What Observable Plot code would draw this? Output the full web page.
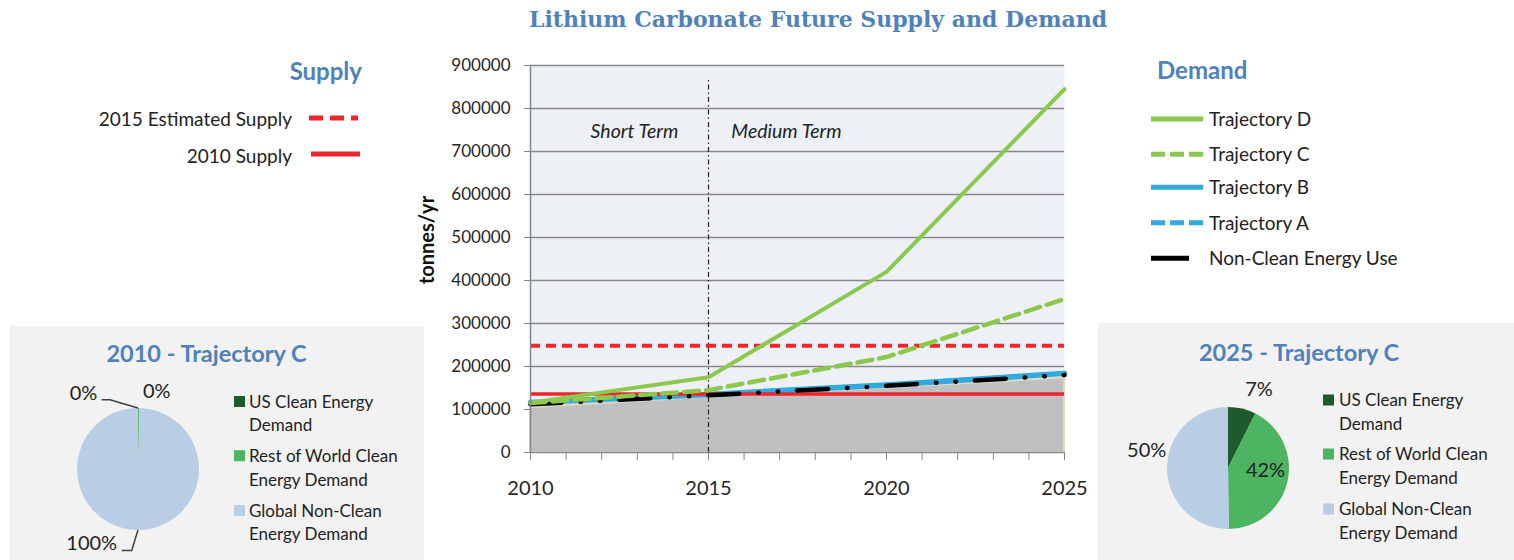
<!DOCTYPE html>
<html><head><meta charset="utf-8">
<script src="https://cdn.jsdelivr.net/npm/d3@7"></script>
<script src="https://cdn.jsdelivr.net/npm/@observablehq/plot@0.6"></script>
<style>
html,body{margin:0;padding:0;background:#fff;}
#page{position:relative;width:1514px;height:560px;overflow:hidden;font-family:Lato,"Open Sans",sans-serif;}
#page > svg{position:absolute;}
</style></head>
<body><div id="page"></div>
<script>
// ---------------- data ----------------
const years = [2010, 2015, 2020, 2025];
const trajectoryD = [116000, 175000, 420000, 845000];
const trajectoryC = [115000, 145000, 222000, 357000];
const trajectoryB = [116000, 135000, 157000, 184000];
const trajectoryA = [116000, 135000, 157000, 184000];
const nonCleanUse = [112000, 133000, 155000, 180000];
const nonCleanBase = [104000, 129000, 150000, 173000];
const supply2010 = [136000];
const supply2015Estimated = [248000];
const yTicks = [0, 100000, 200000, 300000, 400000, 500000, 600000, 700000, 800000, 900000];
const xTicks = [2010, 2011, 2012, 2013, 2014, 2015, 2016, 2017, 2018, 2019, 2020, 2021, 2022, 2023, 2024, 2025];
const xTickLabels = [2010, 2015, 2020, 2025];
const phaseLabels = ["Short Term", "Medium Term"];
const supplySeries = ["2015 Estimated Supply", "2010 Supply"];
const demandSeries = ["Trajectory D", "Trajectory C", "Trajectory B", "Trajectory A", "Non-Clean Energy Use"];
const pieCategories = ["US Clean Energy Demand", "Rest of World Clean Energy Demand", "Global Non-Clean Energy Demand"];
const pieCategoryLines = [["US Clean Energy", "Demand"], ["Rest of World Clean", "Energy Demand"], ["Global Non-Clean", "Energy Demand"]];
const pie2010 = [0.1, 0.3, 99.6];
const pie2025 = [7.4, 42.4, 50.2];

// ---------------- styles ----------------
const GREEN = "#8cc84e", BLUE = "#33a9de", RED = "#ef2529", HEAD = "#4f81bd", TXT = "#222";
const pieColors = ["#1e5b2c", "#4db562", "#b9cde5"];
const FONT = "Lato, 'Open Sans', sans-serif";

const page = document.getElementById("page");

// ---------------- overlay (titles, legends, panels) ----------------
const overlay = d3.create("svg").attr("width", 1514).attr("height", 560)
  .style("left", "0px").style("top", "0px").style("font-family", FONT);
page.appendChild(overlay.node());
function text(x, y, s, attrs = {}) {
  const t = overlay.append("text").attr("x", x).attr("y", y).text(s).attr("fill", TXT);
  for (const [k, v] of Object.entries(attrs)) t.attr(k, v);
  return t;
}
function line(x1, y1, x2, y2, attrs = {}) {
  const l = overlay.append("line").attr("x1", x1).attr("y1", y1).attr("x2", x2).attr("y2", y2);
  for (const [k, v] of Object.entries(attrs)) l.attr(k, v);
  return l;
}

// panels
overlay.append("rect").attr("x", 10).attr("y", 326).attr("width", 414).attr("height", 240).attr("fill", "#f2f2f2");
overlay.append("rect").attr("x", 1098).attr("y", 323).attr("width", 420).attr("height", 240).attr("fill", "#f2f2f2");

// title
text(818, 27, "Lithium Carbonate Future Supply and Demand", {"text-anchor": "middle", "font-family": "'DejaVu Serif', serif", "font-weight": "bold", "font-size": 22, fill: HEAD});

// supply legend
text(362, 80, "Supply", {"text-anchor": "end", "font-weight": "bold", "font-size": 24, fill: HEAD});
const supplyStyles = [{dash: "14,7"}, {dash: null}];
supplySeries.forEach((s, i) => {
  const y = [118, 154][i];
  text(292, [125.5, 163][i], s, {"text-anchor": "end", "font-size": 19});
  const l = line(i ? 311 : 309, y, i ? 360 : 358, y, {stroke: RED, "stroke-width": 5});
  if (supplyStyles[i].dash) l.attr("stroke-dasharray", supplyStyles[i].dash);
});

// demand legend
text(1157, 78.5, "Demand", {"font-weight": "bold", "font-size": 24, fill: HEAD});
const demandStyles = [
  {c: GREEN, dash: null, x2: 1203}, {c: GREEN, dash: "14,5", x2: 1203},
  {c: BLUE, dash: null, x2: 1203}, {c: BLUE, dash: "14,5", x2: 1203},
  {c: "#000", dash: null, x2: 1189}
];
const demandRows = [119, 154.3, 187.3, 222.7, 258.3];
demandSeries.forEach((s, i) => {
  const st = demandStyles[i], y = demandRows[i];
  const l = line(1151, y, st.x2, y, {stroke: st.c, "stroke-width": 5});
  if (st.dash) l.attr("stroke-dasharray", st.dash);
  text(1209, y + 7, s, {"font-size": 19});
});

// y axis title
text(0, 0, "tonnes/yr", {"text-anchor": "middle", "dominant-baseline": "central", "font-weight": "bold", "font-size": 20, fill: "#111",
  transform: "translate(425.5,240) rotate(-90)"});

// pie panel titles + legends
text(206.5, 362, "2010 - Trajectory C", {"text-anchor": "middle", "font-weight": "bold", "font-size": 23.5, fill: HEAD});
text(1299, 361, "2025 - Trajectory C", {"text-anchor": "middle", "font-weight": "bold", "font-size": 23.5, fill: HEAD});
function pieLegend(sqX, txX, baselines) {
  pieCategoryLines.forEach((lines, i) => {
    const b = baselines[i];
    overlay.append("rect").attr("x", sqX).attr("y", b - 11.5).attr("width", 11).attr("height", 11).attr("fill", pieColors[i]);
    lines.forEach((s, j) => text(txX, b + j * 23.8, s, {"font-size": 17}));
  });
}
pieLegend(234, 249, [407.5, 461.7, 516.5]);
pieLegend(1323, 1339, [406, 460, 515]);

// ---------------- main chart ----------------
const table = years.map((year, i) => ({
  year, D: trajectoryD[i], C: trajectoryC[i], B: trajectoryB[i], A: trajectoryA[i],
  nonClean: nonCleanUse[i], base: nonCleanBase[i]
}));

const main = Plot.plot({
  width: 690, height: 470,
  marginLeft: 120, marginRight: 36, marginTop: 25, marginBottom: 58,
  x: {domain: [2010, 2025], label: null},
  y: {domain: [0, 900000], label: null},
  style: {background: "transparent", fontFamily: FONT, color: TXT, overflow: "visible"},
  marks: [
    Plot.frame({fill: "#edf1f6", stroke: "none"}),
    Plot.gridY(yTicks.filter(d => d > 0), {stroke: "#888", strokeOpacity: 1, strokeWidth: 1.7}),
    Plot.areaY(table, {x: "year", y: "base", fill: "#c0c0c2", stroke: "#dcd9bf", strokeWidth: 2}),
    Plot.ruleX([2015], {y1: 0, y2: 870000, stroke: "#222", strokeWidth: 1.2, strokeDasharray: "5,3,1.5,3"}),
    Plot.line(table, {x: "year", y: "B", stroke: BLUE, strokeWidth: 5.5}),
    Plot.line(table, {x: "year", y: "A", stroke: BLUE, strokeWidth: 4.5, strokeDasharray: "10,6"}),
    Plot.ruleY(supply2010, {stroke: RED, strokeWidth: 3.5}),
    Plot.line(table, {x: "year", y: "nonClean", stroke: "#000", strokeWidth: 4.5, strokeDasharray: "31,19,0.5,19,0.5,19", strokeLinecap: "round"}),
    Plot.ruleY(supply2015Estimated, {stroke: RED, strokeWidth: 4, strokeDasharray: "10,6"}),
    Plot.line(table, {x: "year", y: "C", stroke: GREEN, strokeWidth: 4.5, strokeDasharray: "15,7"}),
    Plot.line(table, {x: "year", y: "D", stroke: GREEN, strokeWidth: 4}),
    Plot.ruleX([2010], {stroke: "#868686", strokeWidth: 1.5}),
    Plot.ruleY([0], {stroke: "#868686", strokeWidth: 1.5}),
    Plot.axisY({ticks: yTicks, tickSize: 6, tickPadding: 14, tickFormat: d3.format("d"), fontSize: 17, stroke: "#868686", fill: "#262626", label: null}),
    Plot.axisX({ticks: xTicks, tickSize: 8, tickPadding: 20, tickFormat: d => xTickLabels.includes(d) ? String(d) : "", fontSize: 20, stroke: "#868686", fill: "#262626", label: null}),
    Plot.text(phaseLabels, {x: [2012.92, 2017.19], y: [745800, 745800], text: d => d, fontStyle: "italic", fontSize: 19.5, fill: TXT})
  ]
});
main.style.left = "410px"; main.style.top = "40px";
page.appendChild(main);

// ---------------- pies ----------------
class PieMark extends Plot.Mark {
  constructor(data, options = {}) {
    const {theta, fill} = options;
    super(data, {
      theta: {value: theta},
      fill: {value: fill, scale: "color"}
    }, options, {});
    this.radius = options.radius ?? 60;
    this.labelOffsets = options.labelOffsets ?? [];
    this.leaders = options.leaders ?? [];
  }
  render(index, scales, channels, dimensions) {
    const V = channels.theta, F = channels.fill;
    const cx = dimensions.width / 2, cy = dimensions.height / 2;
    const total = d3.sum(index, i => V[i]);
    const arcs = d3.pie().sort(null).value(i => V[i])(index);
    const arc = d3.arc().innerRadius(0).outerRadius(this.radius);
    const g = d3.create("svg:g").attr("transform", `translate(${cx},${cy})`);
    g.selectAll("path").data(arcs).join("path").attr("d", arc).attr("fill", d => F[d.data]);
    g.selectAll("polyline").data(this.leaders).join("polyline")
      .attr("points", d => d.map(p => p.join(",")).join(" "))
      .attr("fill", "none").attr("stroke", "#404040").attr("stroke-width", 1.5);
    const fmt = d3.format(".0%");
    g.selectAll("text").data(arcs).join("text")
      .attr("x", (d, k) => this.labelOffsets[k][0]).attr("y", (d, k) => this.labelOffsets[k][1])
      .attr("text-anchor", "middle").attr("font-size", 20).attr("fill", TXT)
      .text(d => fmt(V[d.data] / total));
    return g.node();
  }
}
function piePlot(values, opts) {
  const data = pieCategories.map((category, i) => ({category, value: values[i]}));
  return Plot.plot({
    width: 240, height: 200, margin: 0,
    color: {domain: pieCategories, range: pieColors},
    style: {background: "transparent", overflow: "visible", fontFamily: FONT},
    marks: [new PieMark(data, {theta: "value", fill: "category", radius: 61, ...opts})]
  });
}
const p2010 = piePlot(pie2010, {
  labelOffsets: [[-54.5, -69.5], [18.7, -71], [-46.3, 80.8]],
  leaders: [[[-36.3, -69.2], [-28, -69.2], [0, -61]], [[-16.3, 81.5], [-6.3, 81.5], [0, 61]]]
});
p2010.style.left = "18px"; p2010.style.top = "368.5px";
page.appendChild(p2010);
const p2025 = piePlot(pie2025, {
  labelOffsets: [[31, -72.5], [37.5, 8.5], [-81.3, -11.5]]
});
p2025.style.left = "1108px"; p2025.style.top = "367.5px";
page.appendChild(p2025);
</script>
</body></html>
